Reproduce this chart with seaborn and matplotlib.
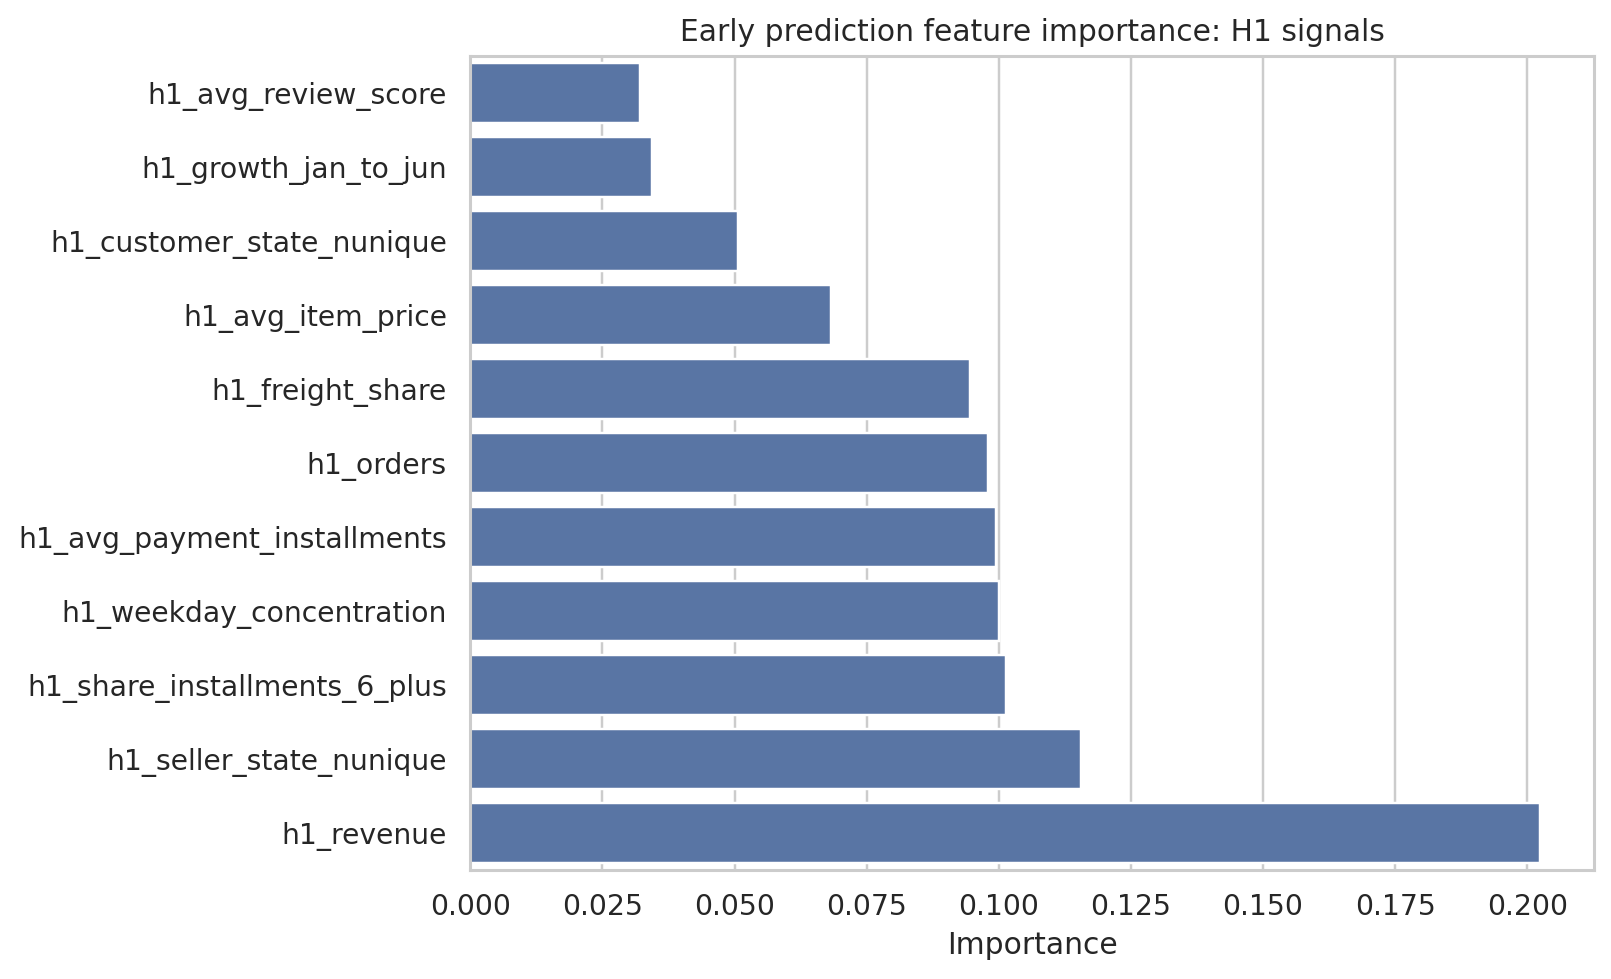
import matplotlib
matplotlib.use("Agg")
import matplotlib.pyplot as plt
import seaborn as sns
import pandas as pd

features = [
    "h1_avg_review_score",
    "h1_growth_jan_to_jun",
    "h1_customer_state_nunique",
    "h1_avg_item_price",
    "h1_freight_share",
    "h1_orders",
    "h1_avg_payment_installments",
    "h1_weekday_concentration",
    "h1_share_installments_6_plus",
    "h1_seller_state_nunique",
    "h1_revenue",
]
importance = [0.0322, 0.0343, 0.0506, 0.0683, 0.0945, 0.0979, 0.0994, 0.1000, 0.1013, 0.1155, 0.2025]

title = "Early prediction feature importance: H1 signals"
xlabel = "Importance"

sns.set_theme(style="whitegrid")
plt.rcParams['font.family'] = ['DejaVu Sans']

df = pd.DataFrame({"feature": features, "importance": importance})

dpi = 177
fig = plt.figure(figsize=(1611 / dpi, 979 / dpi), dpi=dpi)
ax = fig.add_axes([470.3 / 1611, 1 - 870 / 979, (1594 - 470.3) / 1611, (870 - 56) / 979])
sns.barplot(data=df, x="importance", y="feature", ax=ax, color="#4c72b0")
ax.set_title(title, fontsize=12.1)
ax.set_xlabel(xlabel, fontsize=12.1)
ax.set_ylabel("")
ax.tick_params(axis="both", labelsize=11.5)
fig.savefig("out.png", dpi=dpi)
